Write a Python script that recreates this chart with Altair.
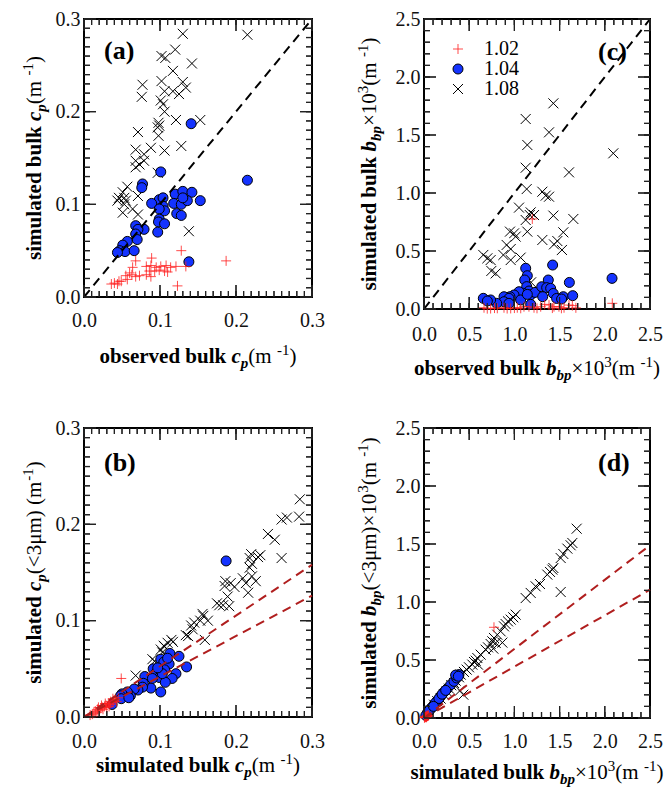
import altair as alt
import pandas as pd

# ---------------- data ----------------
SERIES = ["1.02", "1.04", "1.08"]

# panel (a): observed bulk cp (x) vs simulated bulk cp (y)
a_x_108 = [0.130, 0.215, 0.120, 0.102, 0.107, 0.142, 0.117, 0.077, 0.102, 0.130, 0.106, 0.117, 0.125, 0.134,
           0.076, 0.101, 0.104, 0.106, 0.121, 0.153, 0.098, 0.099, 0.097, 0.071, 0.098, 0.128, 0.068, 0.088,
           0.106, 0.079, 0.068, 0.073, 0.079, 0.068, 0.097, 0.057, 0.051, 0.046, 0.053, 0.044, 0.055, 0.071,
           0.053, 0.051, 0.064, 0.071, 0.138]
a_y_108 = [0.284, 0.283, 0.267, 0.260, 0.258, 0.252, 0.244, 0.229, 0.233, 0.232, 0.222, 0.222, 0.219, 0.226,
           0.216, 0.212, 0.208, 0.200, 0.191, 0.191, 0.188, 0.185, 0.183, 0.178, 0.174, 0.163, 0.159, 0.161,
           0.158, 0.154, 0.147, 0.143, 0.147, 0.140, 0.134, 0.119, 0.113, 0.107, 0.107, 0.104, 0.104, 0.109,
           0.100, 0.091, 0.095, 0.089, 0.071]
a_x_104 = [0.215, 0.141, 0.101, 0.077, 0.076, 0.099, 0.104, 0.120, 0.130, 0.142, 0.153, 0.089, 0.118, 0.128,
           0.136, 0.130, 0.104, 0.106, 0.099, 0.122, 0.128, 0.099, 0.098, 0.106, 0.079, 0.097, 0.068, 0.071,
           0.068, 0.070, 0.057, 0.051, 0.047, 0.054, 0.044, 0.066, 0.138]
a_y_104 = [0.126, 0.187, 0.135, 0.122, 0.118, 0.105, 0.107, 0.111, 0.114, 0.113, 0.104, 0.101, 0.101, 0.100,
           0.104, 0.107, 0.098, 0.093, 0.095, 0.090, 0.088, 0.084, 0.081, 0.079, 0.073, 0.070, 0.077, 0.073,
           0.068, 0.062, 0.060, 0.056, 0.050, 0.049, 0.048, 0.050, 0.038]
a_x_102 = [0.187, 0.128, 0.123, 0.089, 0.068, 0.064, 0.060, 0.063, 0.082, 0.088, 0.095, 0.101, 0.108, 0.114,
           0.121, 0.134, 0.086, 0.093, 0.099, 0.106, 0.110, 0.082, 0.088, 0.055, 0.057, 0.049, 0.040, 0.044,
           0.046, 0.036, 0.068, 0.073]
a_y_102 = [0.039, 0.050, 0.012, 0.042, 0.039, 0.032, 0.026, 0.024, 0.033, 0.034, 0.032, 0.033, 0.034, 0.032,
           0.033, 0.033, 0.028, 0.028, 0.029, 0.028, 0.027, 0.024, 0.022, 0.023, 0.019, 0.017, 0.015, 0.014,
           0.017, 0.014, 0.022, 0.023]

# panel (c): observed bulk bbp x1e3 (x) vs simulated bulk bbp x1e3 (y)
c_x_108 = [2.094, 1.431, 1.125, 1.383, 1.143, 1.125, 1.604, 1.136, 1.309, 1.346, 1.383, 1.051, 1.180, 1.217,
           1.431, 1.125, 1.652, 1.143, 0.951, 0.996, 1.541, 1.014, 1.309, 1.475, 1.438, 0.914, 0.959, 1.526,
           0.878, 0.656, 0.701, 0.737, 0.959, 1.069, 0.745, 0.793, 1.170, 1.185]
c_y_108 = [1.342, 1.773, 1.638, 1.523, 1.414, 1.218, 1.178, 1.034, 1.011, 0.977, 0.968, 0.874, 0.833, 0.810,
           0.805, 0.767, 0.776, 0.667, 0.667, 0.652, 0.661, 0.624, 0.595, 0.586, 0.557, 0.552, 0.517, 0.509,
           0.466, 0.466, 0.437, 0.422, 0.422, 0.443, 0.328, 0.307, 0.810, 0.230]
c_x_104 = [2.080, 1.423, 1.125, 1.143, 1.114, 1.136, 1.162, 1.099, 1.180, 1.228, 1.302, 1.375, 1.357, 1.401,
           1.608, 1.430, 1.313, 1.467, 1.541, 1.645, 1.522, 1.051, 0.996, 0.951, 0.885, 0.940, 0.885, 0.804,
           0.737, 0.656, 0.701, 1.069, 1.180, 0.940, 1.143]
c_y_104 = [0.264, 0.379, 0.351, 0.287, 0.250, 0.193, 0.155, 0.135, 0.121, 0.143, 0.192, 0.250, 0.184, 0.178,
           0.229, 0.134, 0.106, 0.091, 0.106, 0.115, 0.086, 0.149, 0.121, 0.106, 0.106, 0.092, 0.063, 0.049,
           0.078, 0.092, 0.069, 0.078, 0.040, 0.049, 0.126]
c_x_102 = [2.083, 1.198, 0.664, 0.737, 0.811, 0.885, 0.959, 1.032, 1.106, 1.161, 1.217, 1.291, 1.335, 1.383,
           1.438, 1.493, 1.549, 1.604, 1.641, 0.700, 0.780, 0.920, 1.000, 1.070, 1.250, 1.420, 1.520, 1.680]
c_y_102 = [0.049, 0.776, 0.011, 0.004, 0.006, 0.011, 0.005, 0.011, 0.020, 0.020, 0.011, 0.020, 0.040, 0.034,
           0.020, 0.020, 0.011, 0.034, 0.029, 0.003, 0.008, 0.004, 0.008, 0.006, 0.006, 0.008, 0.006, 0.010]

# panel (b): simulated bulk cp (x) vs simulated cp(<3um) (y)
b_x_108 = [0.284, 0.283, 0.267, 0.260, 0.260, 0.242, 0.251, 0.232, 0.229, 0.220, 0.218, 0.221, 0.218, 0.221,
           0.226, 0.209, 0.213, 0.216, 0.198, 0.193, 0.186, 0.185, 0.189, 0.183, 0.175, 0.178, 0.191, 0.156,
           0.163, 0.153, 0.159, 0.141, 0.145, 0.143, 0.134, 0.117, 0.110, 0.106, 0.101, 0.103, 0.090, 0.093,
           0.068, 0.115, 0.105, 0.137, 0.157]
b_y_108 = [0.226, 0.208, 0.207, 0.205, 0.165, 0.190, 0.184, 0.168, 0.166, 0.169, 0.165, 0.159, 0.155, 0.146,
           0.141, 0.144, 0.139, 0.129, 0.135, 0.139, 0.141, 0.136, 0.125, 0.116, 0.118, 0.116, 0.115, 0.107,
           0.100, 0.100, 0.080, 0.095, 0.098, 0.091, 0.085, 0.078, 0.077, 0.073, 0.070, 0.067, 0.060, 0.058,
           0.043, 0.080, 0.074, 0.084, 0.105]
b_x_104 = [0.187, 0.125, 0.113, 0.135, 0.101, 0.105, 0.112, 0.102, 0.091, 0.106, 0.121, 0.116, 0.094, 0.099,
           0.080, 0.090, 0.107, 0.101, 0.088, 0.078, 0.077, 0.071, 0.066, 0.061, 0.057, 0.050, 0.048, 0.049,
           0.059, 0.037, 0.103, 0.097, 0.110]
b_y_104 = [0.162, 0.063, 0.066, 0.052, 0.060, 0.057, 0.055, 0.049, 0.050, 0.049, 0.045, 0.040, 0.045, 0.041,
           0.042, 0.040, 0.036, 0.026, 0.030, 0.035, 0.031, 0.028, 0.029, 0.022, 0.026, 0.024, 0.022, 0.019,
           0.020, 0.013, 0.045, 0.051, 0.061]
b_x_102 = [0.049, 0.013, 0.015, 0.017, 0.018, 0.020, 0.022, 0.024, 0.025, 0.027, 0.029, 0.030, 0.032, 0.034,
           0.035, 0.037, 0.039, 0.041, 0.043, 0.045, 0.028, 0.033, 0.038, 0.023, 0.019, 0.008, 0.011]
b_y_102 = [0.040, 0.004, 0.006, 0.005, 0.008, 0.007, 0.009, 0.010, 0.008, 0.011, 0.012, 0.010, 0.014, 0.013,
           0.016, 0.015, 0.017, 0.018, 0.016, 0.020, 0.014, 0.011, 0.019, 0.012, 0.010, 0.002, 0.003]

# panel (d): simulated bulk bbp x1e3 (x) vs simulated bbp(<3um) x1e3 (y)
d_x_108 = [1.689, 1.641, 1.622, 1.586, 1.541, 1.512, 1.431, 1.420, 1.394, 1.364, 1.283, 1.235, 1.180, 1.125,
           1.512, 1.014, 0.988, 0.959, 0.929, 0.903, 0.885, 0.848, 0.811, 0.774, 0.756, 0.793, 0.737, 0.708,
           0.682, 0.767, 0.627, 0.590, 0.572, 0.553, 0.597, 0.535, 0.498, 0.472, 0.442, 0.406, 0.387, 0.350,
           0.332, 0.302, 0.277, 0.251, 0.221, 0.184, 0.147, 0.111, 0.435, 0.398, 0.867]
d_y_108 = [1.632, 1.509, 1.489, 1.460, 1.414, 1.379, 1.293, 1.279, 1.259, 1.236, 1.155, 1.135, 1.078, 1.034,
           1.086, 0.891, 0.868, 0.848, 0.833, 0.810, 0.790, 0.747, 0.718, 0.690, 0.661, 0.647, 0.638, 0.609,
           0.589, 0.598, 0.546, 0.517, 0.494, 0.483, 0.460, 0.460, 0.437, 0.417, 0.397, 0.374, 0.351, 0.322,
           0.302, 0.282, 0.253, 0.230, 0.201, 0.167, 0.144, 0.115, 0.201, 0.236, 0.650]
d_x_104 = [0.037, 0.074, 0.111, 0.147, 0.184, 0.221, 0.258, 0.295, 0.332, 0.361, 0.387, 0.050, 0.090, 0.125,
           0.165, 0.200, 0.240, 0.020, 0.060, 0.105, 0.350, 0.380]
d_y_104 = [0.043, 0.080, 0.115, 0.149, 0.187, 0.224, 0.253, 0.287, 0.316, 0.345, 0.374, 0.055, 0.095, 0.130,
           0.168, 0.205, 0.238, 0.022, 0.065, 0.100, 0.370, 0.360]
d_x_102 = [0.774, 0.010, 0.015, 0.020, 0.025, 0.030, 0.035, 0.040, 0.045, 0.050, 0.005, 0.012, 0.028, 0.033]
d_y_102 = [0.782, 0.005, 0.008, 0.010, 0.012, 0.014, 0.016, 0.018, 0.020, 0.022, 0.002, 0.012, 0.006, 0.022]

# reference lines (1:1 and the two fitted dashed lines)
one_x_cp, one_y_cp = [0.0, 0.3], [0.0, 0.3]
one_x_bb, one_y_bb = [0.0, 2.5], [0.0, 2.5]
b_line_x = [0.0, 0.3, 0.0, 0.3]
b_line_y = [0.0, 0.158, 0.0, 0.126]
d_line_x = [0.0, 2.5, 0.0, 2.5]
d_line_y = [0.0, 1.489, 0.0, 1.106]
line_group = ["u", "u", "l", "l"]

# axis ticks
cp_major = [0.0, 0.1, 0.2, 0.3]
cp_minor = [round(i * 0.01, 2) for i in range(31)]
bb_major = [0.0, 0.5, 1.0, 1.5, 2.0, 2.5]
bb_minor = [round(i * 0.1, 1) for i in range(26)]

# titles: (text, style, size, dy)
FS, SS = 21, 15
UNIT = [(" (m", "r", FS, 0), ("-1", "r", SS, -8), (")", "r", FS, 0)]
CP = [("c", "bi", FS, 0), ("p", "bi", SS, 5)]
BB = [("b", "bi", FS, 0), ("bp", "bi", SS, 5)]
TITLE_A_X = [("observed bulk ", "b", FS, 0)] + CP + UNIT
TITLE_A_Y = [("simulated bulk ", "b", FS, 0)] + CP + UNIT
TITLE_C_X = [("observed bulk ", "b", FS, 0)] + BB + [("×10", "r", FS, 0), ("3", "r", SS, -8)] + UNIT
TITLE_C_Y = [("simulated bulk ", "b", FS, 0)] + BB + [("×10", "r", FS, 0), ("3", "r", SS, -8)] + UNIT
TITLE_B_X = [("simulated bulk ", "b", FS, 0)] + CP + UNIT
TITLE_B_Y = [("simulated ", "b", FS, 0)] + CP + [("(<3μm) (m", "r", FS, 0), ("-1", "r", SS, -8), (")", "r", FS, 0)]
TITLE_D_X = [("simulated bulk ", "b", FS, 0)] + BB + [("×10", "r", FS, 0), ("3", "r", SS, -8)] + UNIT
TITLE_D_Y = [("simulated ", "b", FS, 0)] + BB + [("(<3μm)×10", "r", FS, 0), ("3", "r", SS, -8)] + UNIT

# ---------------- styling ----------------
SERIF = "Liberation Serif"
PLUS = "M-1,0L1,0M0,-1L0,1"
XMARK = "M-1,-1L1,1M-1,1L1,-1"
BLUE = "#1433ff"
RED = "rgba(255,30,30,0.8)"
DRED = "#b01e1e"
TICKC = "#222222"
MAJ, MIN = 12, 6
# inward tick glyphs as thin filled bars (size 100 -> 5 px per unit; 0.24 wide -> 1.2 px)
TICK_CATS = ["tbM", "tbm", "ttM", "ttm", "tlM", "tlm", "trM", "trm"]
TICK_SHAPES = ["M-0.12,0L0.12,0L0.12,-2.4L-0.12,-2.4Z", "M-0.12,0L0.12,0L0.12,-1.2L-0.12,-1.2Z",
               "M-0.12,0L0.12,0L0.12,2.4L-0.12,2.4Z", "M-0.12,0L0.12,0L0.12,1.2L-0.12,1.2Z",
               "M0,-0.12L2.4,-0.12L2.4,0.12L0,0.12Z", "M0,-0.12L1.2,-0.12L1.2,0.12L0,0.12Z",
               "M0,-0.12L-2.4,-0.12L-2.4,0.12L0,0.12Z", "M0,-0.12L-1.2,-0.12L-1.2,0.12L0,0.12Z"]
CATS = SERIES + TICK_CATS
SHAPES = [PLUS, "circle", XMARK] + TICK_SHAPES
FILLS = ["transparent", BLUE, "transparent"] + [TICKC] * len(TICK_CATS)
STROKES = [RED, "black", "black"] + ["transparent"] * len(TICK_CATS)

W_R = {" ": 250, "(": 333, ")": 333, "-": 333, "<": 564, "×": 564, "μ": 576, "m": 778}
for _d in "0123456789":
    W_R[_d] = 500
W_B = {"s": 389, "i": 278, "m": 833, "u": 556, "l": 278, "a": 500, "t": 333, "e": 444, "d": 556,
       " ": 250, "b": 556, "k": 556, "o": 500, "r": 444, "v": 500}
W_BI = {"b": 500, "c": 444, "p": 500}
TABLE = {"r": W_R, "b": W_B, "bi": W_BI}
ONE = pd.DataFrame({"k": [0]})


def seg_w(txt, st, fs):
    return sum(TABLE[st].get(ch, 500) for ch in txt) * fs / 1000.0


def text_mark(txt, st, fs, x, y, dy=0, angle=0, align="left"):
    props = dict(text=txt, font=SERIF, fontSize=fs, align=align, baseline="alphabetic", color="black",
                 fontWeight="bold" if st in ("b", "bi") else "normal")
    if st == "bi":
        props["fontStyle"] = "italic"
    if dy:
        props["dy"] = dy
    if angle:
        props["angle"] = angle
    return alt.Chart(ONE).mark_text(**props).encode(x=alt.value(x), y=alt.value(y))


def x_title(segs, w, h, off):
    total = sum(seg_w(t, s, f) for t, s, f, _ in segs)
    cur = w / 2 - total / 2
    out = []
    for t, s, f, dy in segs:
        out.append(text_mark(t, s, f, cur, h + off, dy=dy))
        cur += seg_w(t, s, f)
    return out


def y_title(segs, h, off):
    total = sum(seg_w(t, s, f) for t, s, f, _ in segs)
    cur = h / 2 + total / 2
    out = []
    for t, s, f, dy in segs:
        out.append(text_mark(t, s, f, -off, cur, dy=dy, angle=270))
        cur -= seg_w(t, s, f)
    return out


def axis_for(majors, pad):
    return alt.Axis(values=majors, format=".1f", ticks=False, domain=False, grid=False, labelFont=SERIF,
                    labelFontSize=20, labelColor="#111111", labelPadding=pad, labelFlush=False,
                    labelOverlap=False, title=None)


def tick_rects(dom, majors, minors, w, h):
    """Inward tick bars as thin rectangles, built from the tick positions."""
    lo, hi = dom
    span = hi - lo
    hwx = 0.6 * span / w
    hwy = 0.6 * span / h
    rows = []
    for vals, L in ((majors, MAJ), (minors, MIN)):
        ly = L * span / h
        lx = L * span / w
        for v in vals:
            rows.append({"x1": v - hwx, "x2": v + hwx, "y1": lo, "y2": lo + ly})
            rows.append({"x1": v - hwx, "x2": v + hwx, "y1": hi - ly, "y2": hi})
            rows.append({"x1": lo, "x2": lo + lx, "y1": v - hwy, "y2": v + hwy})
            rows.append({"x1": hi - lx, "x2": hi, "y1": v - hwy, "y2": v + hwy})
    return pd.DataFrame(rows)


def make_df(dom, majors, minors, x102, y102, x104, y104, x108, y108):
    lo, hi = dom
    rows = []
    for vals, sfx in ((minors, "m"), (majors, "M")):
        for v in vals:
            rows.append({"x": v, "y": lo, "s": "tb" + sfx})
            rows.append({"x": v, "y": hi, "s": "tt" + sfx})
            rows.append({"x": lo, "y": v, "s": "tl" + sfx})
            rows.append({"x": hi, "y": v, "s": "tr" + sfx})
    for xs, ys, s in ((x108, y108, "1.08"), (x104, y104, "1.04"), (x102, y102, "1.02")):
        for xv, yv in zip(xs, ys):
            rows.append({"x": xv, "y": yv, "s": s})
    return pd.DataFrame(rows)


def panel(df, dom, majors, minors, w, h, xpad, label, lx, ly, tx, ty, txoff, tyoff,
          line_df, line_color, legend=False):
    xsc = alt.Scale(domain=dom, nice=False, zero=False)
    ysc = alt.Scale(domain=dom, nice=False, zero=False)
    axx = axis_for(majors, xpad)
    axy = axis_for(majors, 4)
    if legend:
        leg = alt.Legend(orient="none", legendX=24, legendY=20, title=None, labelFont=SERIF,
                         labelFontSize=20, labelColor="black", symbolSize=100, symbolStrokeWidth=1,
                         rowPadding=0, labelOffset=16, padding=0, values=SERIES)
    else:
        leg = None
    lines = alt.Chart(line_df).mark_line(strokeDash=[9, 6], strokeWidth=2, color=line_color).encode(
        x=alt.X("x:Q", scale=xsc, axis=axx), y=alt.Y("y:Q", scale=ysc, axis=axy), detail="g:N")
    rects = alt.Chart(tick_rects(dom, majors, minors, w, h)).mark_rect(color=TICKC, opacity=1).encode(
        x=alt.X("x1:Q", scale=xsc, axis=axx), x2="x2:Q",
        y=alt.Y("y1:Q", scale=ysc, axis=axy), y2="y2:Q")
    pts = alt.Chart(df).mark_point(size=100, strokeWidth=1, opacity=1).encode(
        x=alt.X("x:Q", scale=xsc, axis=axx),
        y=alt.Y("y:Q", scale=ysc, axis=axy),
        shape=alt.Shape("s:N", scale=alt.Scale(domain=CATS, range=SHAPES), legend=leg),
        fill=alt.Fill("s:N", scale=alt.Scale(domain=CATS, range=FILLS), legend=leg),
        stroke=alt.Stroke("s:N", scale=alt.Scale(domain=CATS, range=STROKES), legend=leg),
    )
    layers = [pts, lines, rects]
    layers.append(text_mark(label, "b", 26, lx, ly))
    layers += x_title(tx, w, h, txoff)
    layers += y_title(ty, h, tyoff)
    return alt.layer(*layers).properties(width=w, height=h)


cp_one = pd.DataFrame({"x": one_x_cp, "y": one_y_cp, "g": ["o", "o"]})
bb_one = pd.DataFrame({"x": one_x_bb, "y": one_y_bb, "g": ["o", "o"]})
b_lines = pd.DataFrame({"x": b_line_x, "y": b_line_y, "g": line_group})
d_lines = pd.DataFrame({"x": d_line_x, "y": d_line_y, "g": line_group})

pa = panel(make_df([0, 0.3], cp_major, cp_minor, a_x_102, a_y_102, a_x_104, a_y_104, a_x_108, a_y_108),
           [0, 0.3], cp_major, cp_minor, 228, 278, 13, "(a)", 20, 40, TITLE_A_X, TITLE_A_Y, 66, 43,
           cp_one, "black")
pc = panel(make_df([0, 2.5], bb_major, bb_minor, c_x_102, c_y_102, c_x_104, c_y_104, c_x_108, c_y_108),
           [0, 2.5], bb_major, bb_minor, 226, 290, 15, "(c)", 174, 41, TITLE_C_X, TITLE_C_Y, 66, 48,
           bb_one, "black", legend=True)
pb = panel(make_df([0, 0.3], cp_major, cp_minor, b_x_102, b_y_102, b_x_104, b_y_104, b_x_108, b_y_108),
           [0, 0.3], cp_major, cp_minor, 228, 289, 14, "(b)", 20, 43, TITLE_B_X, TITLE_B_Y, 55, 43,
           b_lines, DRED)
pd_ = panel(make_df([0, 2.5], bb_major, bb_minor, d_x_102, d_y_102, d_x_104, d_y_104, d_x_108, d_y_108),
            [0, 2.5], bb_major, bb_minor, 226, 290, 13, "(d)", 174, 43, TITLE_D_X, TITLE_D_Y, 61, 48,
            d_lines, DRED)

IND = dict(shape="independent", fill="independent", stroke="independent")
top = alt.hconcat(pa, pc, spacing=29).resolve_scale(**IND).resolve_legend(**IND)
bot = alt.hconcat(pb, pd_, spacing=29).resolve_scale(**IND).resolve_legend(**IND)
chart = (
    alt.vconcat(top, bot, spacing=33)
    .resolve_scale(**IND).resolve_legend(**IND)
    .properties(padding={"left": 20, "top": 8, "right": 0, "bottom": 0}, background="white")
    .configure_view(stroke="black", strokeWidth=2)
)
chart.save("out.html", embed_options={"renderer": "svg", "actions": False})
